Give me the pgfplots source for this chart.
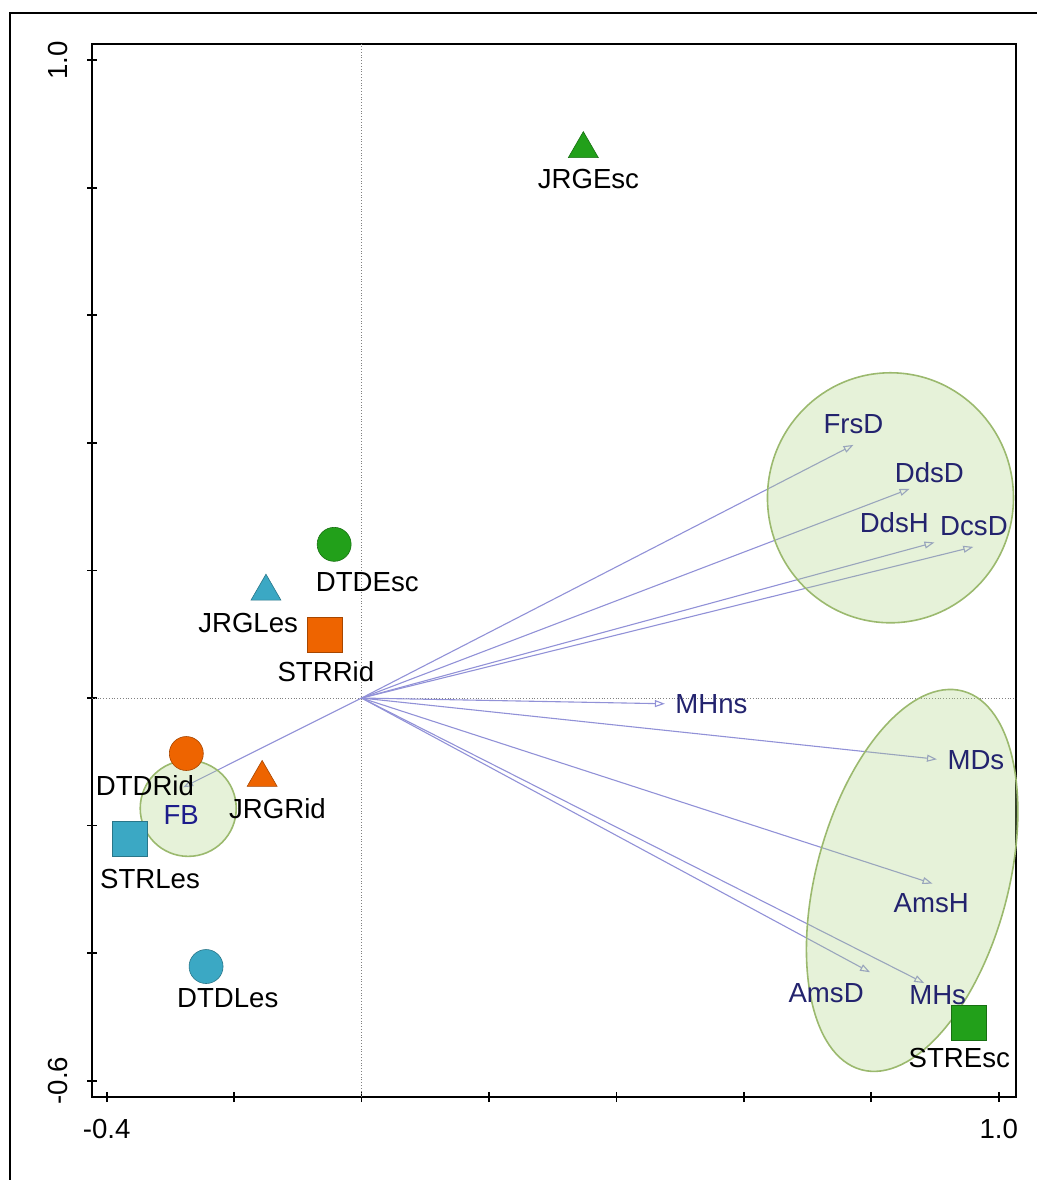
\documentclass[border=0pt]{standalone}
\usepackage{fontspec}
\setmainfont{Liberation Sans}
\usepackage{pgfplots}
\pgfplotsset{compat=1.18}
\usetikzlibrary{calc,arrows.meta}

\definecolor{grn}{RGB}{34,160,26}
\definecolor{org}{RGB}{238,100,0}
\definecolor{blu}{RGB}{59,168,196}
\definecolor{arr}{RGB}{145,145,215}
\definecolor{lab}{RGB}{35,35,110}
\definecolor{ellf}{RGB}{172,212,128}
\definecolor{elld}{RGB}{155,185,110}

\begin{document}
\begin{tikzpicture}[font=\fontsize{13.8}{16}\selectfont]
\begin{axis}[
  scale only axis, width=462pt, height=526.5pt,
  xmin=-0.423, xmax=1.027, ymin=-0.6256, ymax=1.0256,
  axis line style={line width=1.1pt},
  tick align=center, major tick length=5pt,
  tick style={line width=0.9pt, black},
  xtick pos=bottom, ytick pos=left,
  xtick={-0.4,-0.2,0,0.2,0.4,0.6,0.8,1.0},
  xticklabels={-0.4,{},{},{},{},{},{},1.0},
  ytick={-0.6,-0.4,-0.2,0,0.2,0.4,0.6,0.8,1.0},
  yticklabels={-0.6,{},{},{},{},{},{},{},1.0},
  /pgf/number format/assume math mode=true,
  ticklabel style={font=\fontsize{13.8}{16}\selectfont},
  yticklabel style={rotate=90, anchor=south},
  xticklabel shift=5pt, yticklabel shift=6pt,
  clip=false,
]
% reference lines through the origin
\addplot[gray, densely dotted, line width=0.4pt] coordinates {(-0.423,0) (1.027,0)};
\addplot[gray, densely dotted, line width=0.4pt] coordinates {(0,-0.6256) (0,1.0256)};

% environmental vectors
\pgfplotsset{vec/.style={arr, line width=0.55pt, -{Triangle[open, length=5pt, width=3.5pt]}}}
\addplot[vec] coordinates {(0,0) (0.772,0.397)};   % FrsD
\addplot[vec] coordinates {(0,0) (0.860,0.328)};   % DdsD
\addplot[vec] coordinates {(0,0) (0.899,0.244)};   % DdsH
\addplot[vec] coordinates {(0,0) (0.960,0.237)};   % DcsD
\addplot[vec] coordinates {(0,0) (0.476,-0.009)};  % MHns
\addplot[vec] coordinates {(0,0) (0.903,-0.096)};  % MDs
\addplot[vec] coordinates {(0,0) (0.896,-0.291)};  % AmsH
\addplot[vec] coordinates {(0,0) (0.798,-0.430)};  % AmsD
\addplot[vec] coordinates {(0,0) (0.883,-0.447)};  % MHs
\addplot[vec] coordinates {(0,0) (-0.280,-0.140)}; % FB

% sites
\pgfplotsset{pt/.style={only marks, mark options={fill=#1, draw=#1!70!black, line width=0.3pt}}}
\addplot[pt=grn, mark=triangle*, mark size=8.66pt] coordinates {(0.348,0.861)};   % JRGEsc
\addplot[pt=blu, mark=triangle*, mark size=8.66pt] coordinates {(-0.150,0.167)};  % JRGLes
\addplot[pt=org, mark=triangle*, mark size=8.66pt] coordinates {(-0.156,-0.125)}; % JRGRid
\addplot[pt=grn, mark=*, mark size=8.5pt] coordinates {(-0.043,0.241)};           % DTDEsc
\addplot[pt=org, mark=*, mark size=8.5pt] coordinates {(-0.275,-0.087)};          % DTDRid
\addplot[pt=blu, mark=*, mark size=8.5pt] coordinates {(-0.244,-0.421)};          % DTDLes
\addplot[pt=org, mark=square*, mark size=8.75pt] coordinates {(-0.058,0.0987)};   % STRRid
\addplot[pt=blu, mark=square*, mark size=8.75pt] coordinates {(-0.364,-0.220)};   % STRLes
\addplot[pt=grn, mark=square*, mark size=8.75pt] coordinates {(0.953,-0.509)};    % STREsc

% groups
\coordinate (E1) at (axis cs:0.830,0.314);
\coordinate (E2) at (axis cs:0.864,-0.286);
\coordinate (E3) at (axis cs:-0.272,-0.173);
\draw[elld, line width=0.8pt, fill=ellf, fill opacity=0.3] (E1) ellipse [x radius=61.5pt, y radius=62.5pt];
\draw[elld, line width=0.8pt, fill=ellf, fill opacity=0.3, rotate around={-15:(E2)}] (E2) ellipse [x radius=48pt, y radius=98pt];
\draw[elld, line width=0.8pt, fill=ellf, fill opacity=0.3] (E3) circle [radius=24pt];

% site labels
\node at (axis cs:0.356,0.814) {JRGEsc};
\node at (axis cs:0.009,0.181) {DTDEsc};
\node at (axis cs:-0.178,0.117) {JRGLes};
\node at (axis cs:-0.056,0.042) {STRRid};
\node at (axis cs:-0.340,-0.137) {DTDRid};
\node at (axis cs:-0.132,-0.173) {JRGRid};
\node at (axis cs:-0.332,-0.283) {STRLes};
\node at (axis cs:-0.210,-0.471) {DTDLes};
\node at (axis cs:0.938,-0.565) {STREsc};

% variable labels
\begin{scope}[every node/.style={text=lab}]
\node at (axis cs:0.772,0.429) {FrsD};
\node at (axis cs:0.891,0.353) {DdsD};
\node at (axis cs:0.836,0.275) {DdsH};
\node at (axis cs:0.961,0.270) {DcsD};
\node at (axis cs:0.549,-0.009) {MHns};
\node at (axis cs:0.964,-0.098) {MDs};
\node at (axis cs:0.894,-0.322) {AmsH};
\node at (axis cs:0.729,-0.462) {AmsD};
\node at (axis cs:0.904,-0.466) {MHs};
\node[text=lab!80!blue] at (axis cs:-0.283,-0.184) {FB};
\end{scope}
\end{axis}

\pgfresetboundingbox
\path[use as bounding box] ($(current axis.south west)+(-46pt,-41.5pt)$) rectangle ($(current axis.north east)+(10pt,22pt)$);
\draw[line width=1pt] ($(current axis.south west)+(-41pt,-60pt)$) |- ($(current axis.north east)+(30pt,15.5pt)$);
\end{tikzpicture}
\end{document}
